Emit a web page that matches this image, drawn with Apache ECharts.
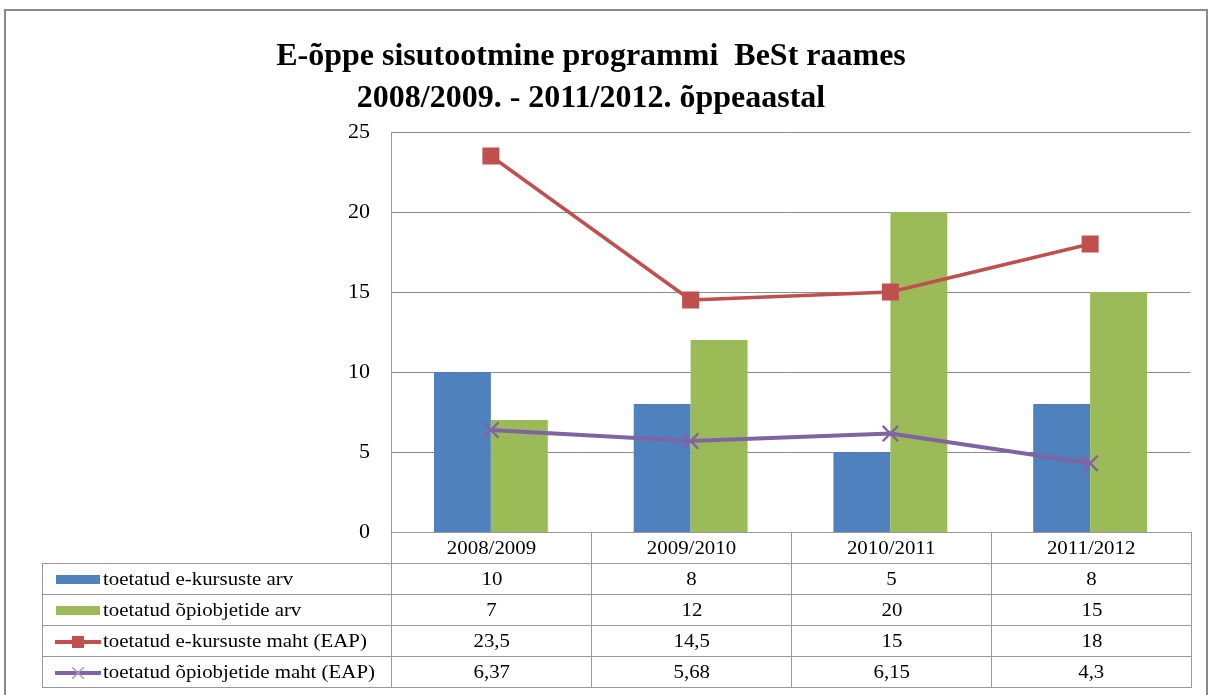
<!DOCTYPE html>
<html>
<head>
<meta charset="utf-8">
<script src="https://cdn.jsdelivr.net/npm/echarts@6/dist/echarts.min.js"></script>
<style>
  body { margin: 0; background: #fff; }
  #wrap { position: relative; width: 1212px; height: 695px; overflow: hidden; }
  #main { position: absolute; left: 0; top: 0; width: 1212px; height: 695px; }
  #tbl {
    position: absolute; left: 42px; top: 532px;
    border-collapse: collapse; table-layout: fixed;
    font-family: "Liberation Serif", "Times New Roman", serif; font-size: 18px; color: #000;
  }
  #tbl td { border: 1px solid #999; padding: 0; height: 30px; text-align: center; white-space: nowrap; }
  #tbl td.lab { text-align: left; padding-left: 12px; }
  #tbl td.blank { border: none; border-right: 1px solid #999; }
  #tbl svg { vertical-align: middle; margin-right: 2px; }
  #tbl span { display: inline-block; transform: scaleX(1.16); }
  #tbl td.lab span { transform-origin: left center; }
</style>
</head>
<body>
<div id="wrap">
  <div id="main"></div>
  <table id="tbl"></table>
</div>
<script>
// andmed
var categories = ["2008/2009", "2009/2010", "2010/2011", "2011/2012"]
var kursusteArv = [10, 8, 5, 8]
var objektideArv = [7, 12, 20, 15]
var kursusteMaht = [23.5, 14.5, 15, 18]
var objektideMaht = [6.37, 5.68, 6.15, 4.3]
var yTicks = [0, 5, 10, 15, 20, 25]

var names = [
  "toetatud e-kursuste arv",
  "toetatud õpiobjetide arv",
  "toetatud e-kursuste maht (EAP)",
  "toetatud õpiobjetide maht (EAP)"
]
var colors = ["#4F81BD", "#9BBB59", "#C0504D", "#8064A2"]
var crossPath = "path://M0,1L1,0L5,4L9,0L10,1L6,5L10,9L9,10L5,6L1,10L0,9L4,5Z"

var chartDom = document.getElementById("main")
var myChart = echarts.init(chartDom)
var serif = "Liberation Serif"

var option = {
  animation: false,
  title: {
    text: "E-õppe sisutootmine programmi  BeSt raames\n2008/2009. - 2011/2012. õppeaastal",
    left: 586,
    top: 31,
    textAlign: "center",
    textStyle: {
      fontFamily: serif, fontSize: 32, fontWeight: "bold", color: "#000",
      lineHeight: 42, align: "center"
    }
  },
  graphic: [
    {
      type: "rect", silent: true,
      shape: { x: 5, y: 10, width: 1202, height: 700 },
      style: { fill: null, stroke: "#8a8a8a", lineWidth: 2 }
    }
  ],
  grid: { left: 391, right: 22, top: 132, bottom: 163 },
  xAxis: {
    type: "category",
    data: categories,
    axisLine: { lineStyle: { color: "#999" } },
    axisTick: { show: false },
    axisLabel: { show: false }
  },
  yAxis: {
    type: "value",
    min: yTicks[0],
    max: yTicks[yTicks.length - 1],
    interval: 5,
    axisLine: { show: true, lineStyle: { color: "#999" } },
    axisTick: { show: false },
    axisLabel: { fontFamily: serif, fontSize: 22, color: "#000", margin: 21 },
    splitLine: { lineStyle: { color: "#8c8c8c", width: 1 } }
  },
  series: [
    {
      name: names[0], type: "bar", data: kursusteArv,
      barGap: "0%", barCategoryGap: "43%",
      itemStyle: { color: colors[0] }
    },
    {
      name: names[1], type: "bar", data: objektideArv,
      barGap: "0%", barCategoryGap: "43%",
      itemStyle: { color: colors[1] }
    },
    {
      name: names[2], type: "line", data: kursusteMaht,
      symbol: "rect", symbolSize: 17,
      lineStyle: { color: colors[2], width: 3.5 },
      itemStyle: { color: colors[2] }
    },
    {
      name: names[3], type: "line", data: objektideMaht,
      symbol: crossPath, symbolSize: 17,
      lineStyle: { color: colors[3], width: 4 },
      itemStyle: { color: colors[3] }
    }
  ]
}
option && myChart.setOption(option)

// andmetabel
function swatch(i) {
  if (i < 2) {
    return '<svg width="46" height="12"><rect x="1" y="1" width="44" height="9" fill="' + colors[i] + '"/></svg>'
  }
  var mark = i === 2
    ? '<rect x="17" y="0" width="12" height="12" fill="' + colors[i] + '"/>'
    : '<path d="M17,0L29,12M29,0L17,12" stroke="#a998c4" stroke-width="1.5"/>'
  return '<svg width="46" height="12"><line x1="0" y1="6" x2="46" y2="6" stroke="' + colors[i] + '" stroke-width="4"/>' + mark + '</svg>'
}
function fmt(v) { return String(v).replace(".", ",") }

var rows = [kursusteArv, objektideArv, kursusteMaht, objektideMaht]
var html = '<colgroup><col style="width:349px">'
categories.forEach(function () { html += '<col style="width:200px">' })
html += '</colgroup><tr><td class="blank"></td>'
categories.forEach(function (c) { html += '<td><span>' + c + '</span></td>' })
html += '</tr>'
rows.forEach(function (r, i) {
  html += '<tr><td class="lab">' + swatch(i) + '<span>' + names[i] + '</span></td>'
  r.forEach(function (v) { html += '<td><span>' + fmt(v) + '</span></td>' })
  html += '</tr>'
})
document.getElementById("tbl").innerHTML = html

window.addEventListener("resize", function () {
  myChart.resize()
})
</script>
</body>
</html>
